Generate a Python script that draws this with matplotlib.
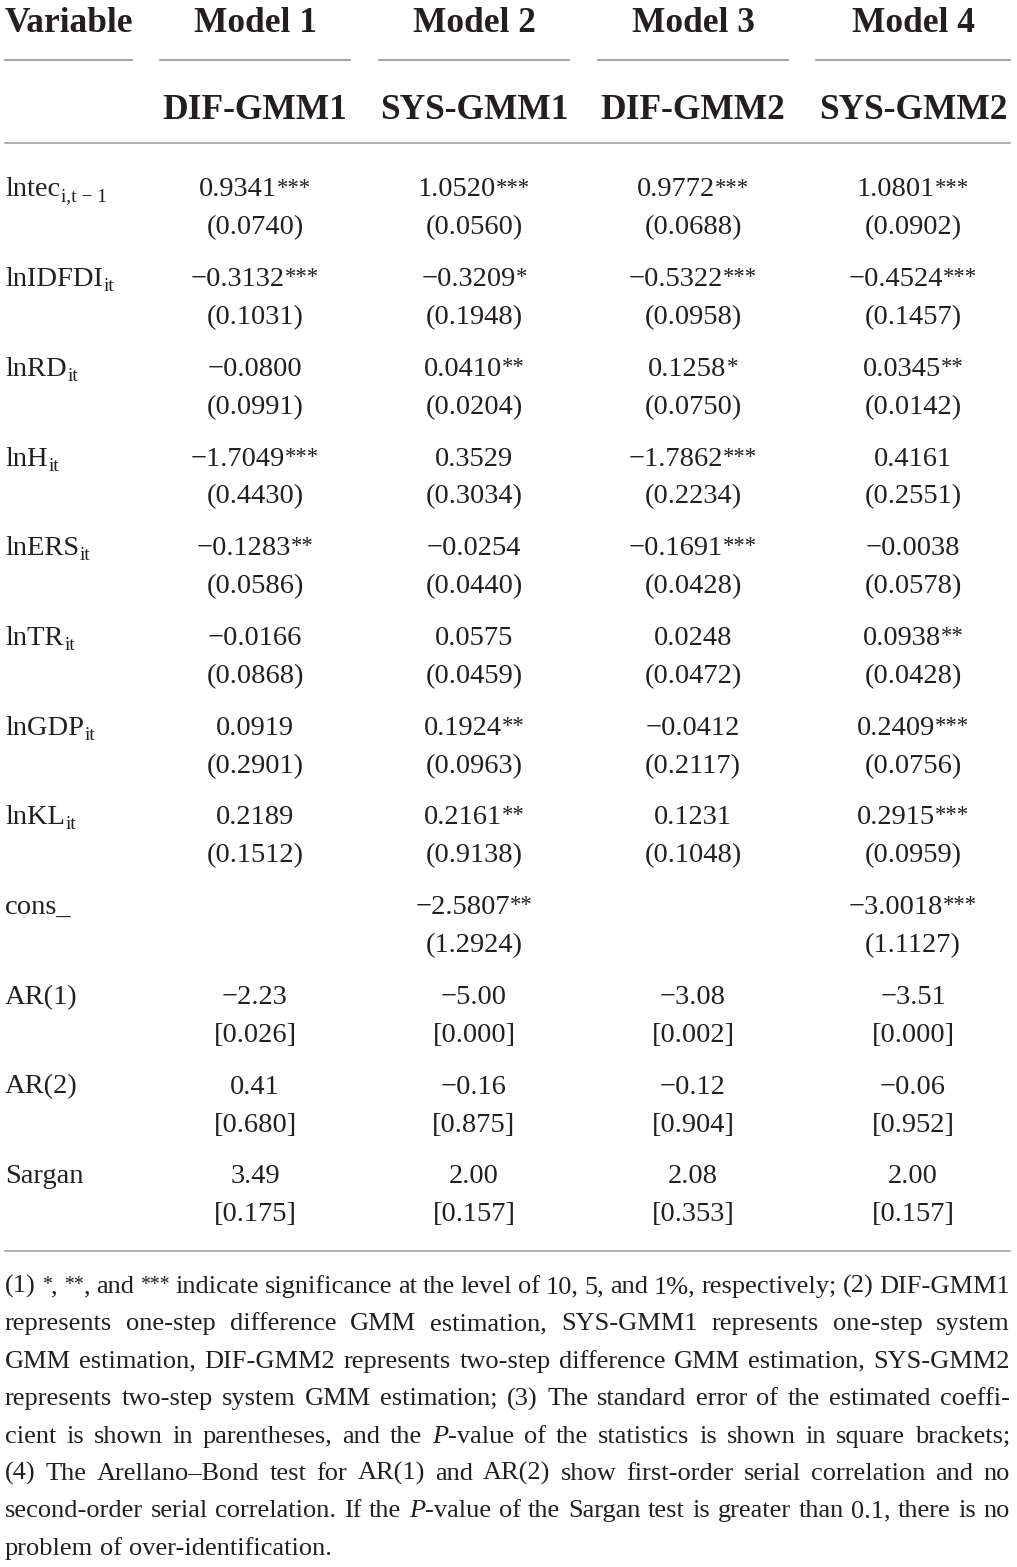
import re
import matplotlib
matplotlib.use("Agg")
import matplotlib.pyplot as plt
from matplotlib.font_manager import FontProperties

plt.rcParams['font.family'] = ['Liberation Serif', 'DejaVu Serif']

# ---- table content ----
models = ["Model 1", "Model 2", "Model 3", "Model 4"]
methods = ["DIF-GMM1", "SYS-GMM1", "DIF-GMM2", "SYS-GMM2"]

var_names = ["lntec", "lnIDFDI", "lnRD", "lnH", "lnERS", "lnTR", "lnGDP", "lnKL",
             "cons_", "AR(1)", "AR(2)", "Sargan"]
var_subs = ["i,t − 1", "it", "it", "it", "it", "it", "it", "it", "", "", "", ""]

m1_coef = ["0.9341***", "−0.3132***", "−0.0800", "−1.7049***", "−0.1283**", "−0.0166",
           "0.0919", "0.2189", "", "−2.23", "0.41", "3.49"]
m1_se = ["(0.0740)", "(0.1031)", "(0.0991)", "(0.4430)", "(0.0586)", "(0.0868)",
         "(0.2901)", "(0.1512)", "", "[0.026]", "[0.680]", "[0.175]"]
m2_coef = ["1.0520***", "−0.3209*", "0.0410**", "0.3529", "−0.0254", "0.0575",
           "0.1924**", "0.2161**", "−2.5807**", "−5.00", "−0.16", "2.00"]
m2_se = ["(0.0560)", "(0.1948)", "(0.0204)", "(0.3034)", "(0.0440)", "(0.0459)",
         "(0.0963)", "(0.9138)", "(1.2924)", "[0.000]", "[0.875]", "[0.157]"]
m3_coef = ["0.9772***", "−0.5322***", "0.1258*", "−1.7862***", "−0.1691***", "0.0248",
           "−0.0412", "0.1231", "", "−3.08", "−0.12", "2.08"]
m3_se = ["(0.0688)", "(0.0958)", "(0.0750)", "(0.2234)", "(0.0428)", "(0.0472)",
         "(0.2117)", "(0.1048)", "", "[0.002]", "[0.904]", "[0.353]"]
m4_coef = ["1.0801***", "−0.4524***", "0.0345**", "0.4161", "−0.0038", "0.0938**",
           "0.2409***", "0.2915***", "−3.0018***", "−3.51", "−0.06", "2.00"]
m4_se = ["(0.0902)", "(0.1457)", "(0.0142)", "(0.2551)", "(0.0578)", "(0.0428)",
         "(0.0756)", "(0.0959)", "(1.1127)", "[0.000]", "[0.952]", "[0.157]"]

notes = [
    "(1) {*}, {**}, and {***} indicate significance at the level of 10, 5, and 1%, respectively; (2) DIF-GMM1",
    "represents one-step difference GMM estimation, SYS-GMM1 represents one-step system",
    "GMM estimation, DIF-GMM2 represents two-step difference GMM estimation, SYS-GMM2",
    "represents two-step system GMM estimation; (3) The standard error of the estimated coeffi-",
    "cient is shown in parentheses, and the [P]-value of the statistics is shown in square brackets;",
    "(4) The Arellano–Bond test for AR(1) and AR(2) show first-order serial correlation and no",
    "second-order serial correlation. If the [P]-value of the Sargan test is greater than 0.1, there is no",
    "problem of over-identification.",
]

# ---- layout ----
W, H = 1017, 1567
TXT = "#231f20"
RULE = "#9a9a9a"
HEAD = 25.5
BODY = 20.5
col_x = [255, 474, 693, 913]
col_rule = [(160, 350), (379, 569), (598, 788), (816, 1010)]
row_y0, row_dy, se_dy = 196.5, 89.7, 38

fig = plt.figure(figsize=(W / 100, H / 100), dpi=100)
ax = fig.add_axes([0, 0, 1, 1])
ax.set_xlim(0, W)
ax.set_ylim(H, 0)
ax.axis("off")
renderer = fig.canvas.get_renderer()


def tw(s, size, weight="normal", style="normal"):
    fp = FontProperties(family=['Liberation Serif', 'DejaVu Serif'], size=size,
                        weight=weight, style=style)
    w, h, d = renderer.get_text_width_height_descent(s, fp, ismath=False)
    return w


def put(x, y, s, size, **kw):
    ax.text(x, y, s, fontsize=size, color=TXT, va="baseline", **kw)


def value(cx, y, s):
    if not s:
        return
    num = s.rstrip("*")
    stars = s[len(num):]
    ssz = BODY * 0.8
    wn = tw(num, BODY)
    ws = tw(stars, ssz) if stars else 0
    x0 = cx - (wn + ws) / 2
    put(x0, y, num, BODY, ha="left")
    if stars:
        put(x0 + wn, y - 3, stars, ssz, ha="left")


# header
put(5, 32, "Variable", HEAD, ha="left", weight="bold")
for cx, m, d in zip(col_x, models, methods):
    put(cx, 32, m, HEAD, ha="center", weight="bold")
    put(cx, 119, d, HEAD, ha="center", weight="bold")
ax.plot([5, 132], [60, 60], color=RULE, lw=1.3)
for a, b in col_rule:
    ax.plot([a, b], [60, 60], color=RULE, lw=1.3)
ax.plot([5, 1010], [143, 143], color=RULE, lw=1.1)

# body
coefs = [m1_coef, m2_coef, m3_coef, m4_coef]
ses = [m1_se, m2_se, m3_se, m4_se]
for i, (name, sub) in enumerate(zip(var_names, var_subs)):
    y = row_y0 + i * row_dy
    put(5, y, name, BODY, ha="left")
    if sub:
        put(5 + tw(name, BODY) + 1, y + 5, sub, BODY * 0.68, ha="left")
    for j, cx in enumerate(col_x):
        value(cx, y, coefs[j][i])
        value(cx, y + se_dy, ses[j][i])

ax.plot([5, 1010], [1251, 1251], color=RULE, lw=1.1)

# footnote, justified
NOTE = 19.0


def segments(word):
    out = []
    for part in re.split(r'(\{[^}]*\}|\[P\])', word):
        if not part:
            continue
        if part.startswith("{"):
            out.append((part[1:-1], "sup"))
        elif part == "[P]":
            out.append(("P", "it"))
        else:
            out.append((part, "rm"))
    return out


def seg_w(seg, size):
    t, k = seg
    if k == "sup":
        return tw(t, size * 0.75)
    if k == "it":
        return tw(t, size, style="italic")
    return tw(t, size)


def word_w(word, size):
    return sum(seg_w(s, size) for s in segments(word))


# size so the tightest line fits with spaces squeezed a little
nat = [sum(word_w(w, NOTE) for w in line.split()) + 0.6 * tw(" ", NOTE) * (len(line.split()) - 1)
       for line in notes[:-1]]
size = NOTE * min(1.0, 1004 / max(nat))

left, right = 5, 1010
for k, line in enumerate(notes):
    y = 1293 + k * 37.4
    words = line.split()
    widths = [word_w(w, size) for w in words]
    if k < len(notes) - 1:
        gap = (right - left - sum(widths)) / (len(words) - 1)
    else:
        gap = tw(" ", size)
    x = left
    for w, ww in zip(words, widths):
        xx = x
        for seg in segments(w):
            t, kind = seg
            if kind == "sup":
                put(xx, y - 3, t, size * 0.75, ha="left")
            elif kind == "it":
                put(xx, y, t, size, ha="left", style="italic")
            else:
                put(xx, y, t, size, ha="left")
            xx += seg_w(seg, size)
        x += ww + gap

fig.savefig("out.png", dpi=100)
